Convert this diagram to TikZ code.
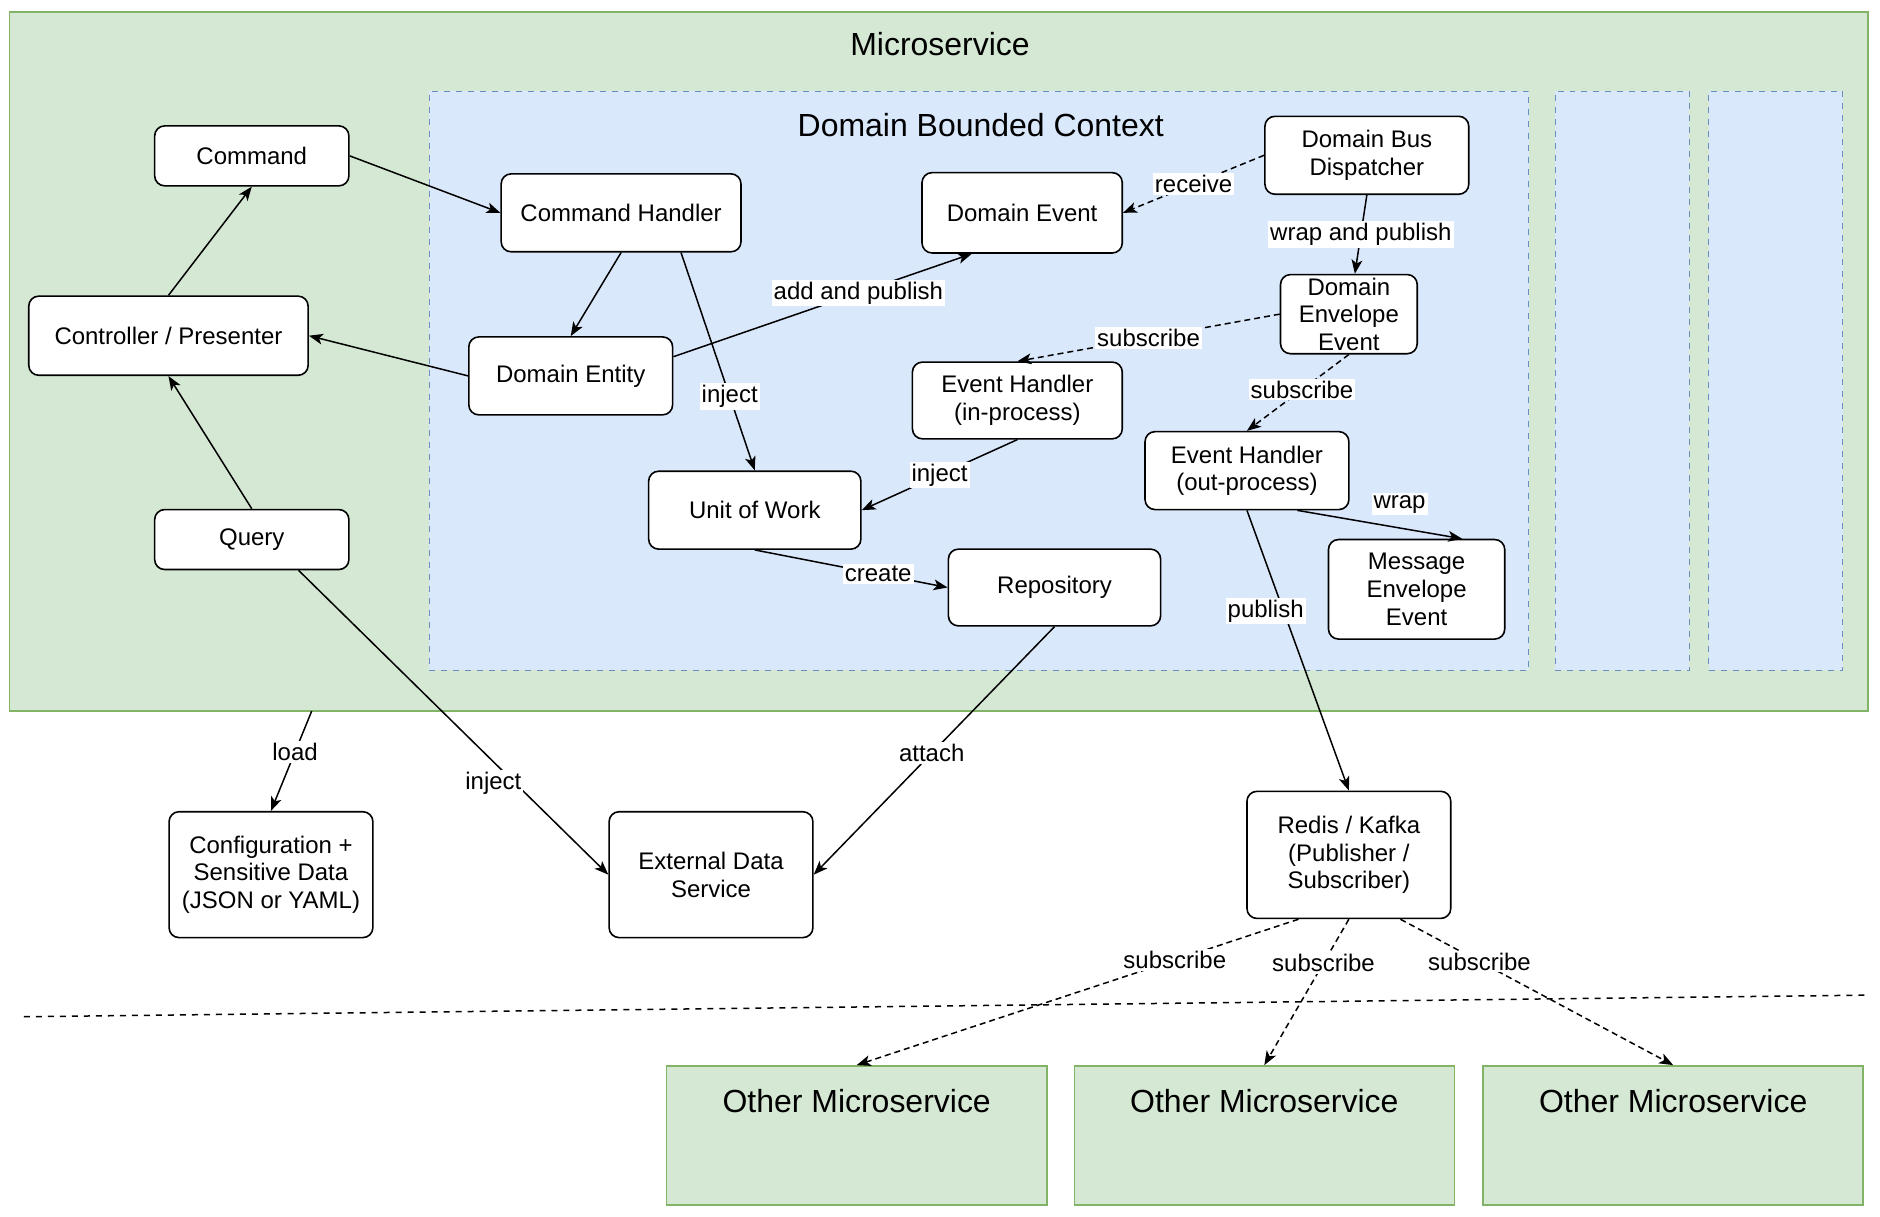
\documentclass[tikz,border=0pt]{standalone}
\usepackage{fontspec}
\setmainfont{Liberation Sans}
\usetikzlibrary{arrows.meta,calc}
\definecolor{msgreen}{HTML}{D5E8D4}
\definecolor{msedge}{HTML}{82B366}
\definecolor{dbcblue}{HTML}{DAE8FC}
\definecolor{dbcedge}{HTML}{6C8EBF}
\tikzset{
    dims/.style 2 args={minimum width=#1*0.6pt, minimum height=#2*0.6pt},
    rbox/.style={draw, fill=white, rounded corners=5pt, line width=0.8pt, align=center, inner sep=2pt},
    lbl/.style={fill=white, inner sep=1pt},
    title/.style={font=\fontsize{16}{19}\selectfont},
    msbox/.style={draw=msedge, fill=msgreen, line width=0.8pt},
    dbcbox/.style={draw=dbcedge, fill=dbcblue, dashed, line width=0.6pt},
    line/.style={line width=0.75pt},
    dline/.style={line width=0.75pt, dash pattern=on 3pt off 2pt}
}
\begin{document}
\begin{tikzpicture}[x=0.6pt, y=-0.6pt,
    >={Stealth[length=7pt, width=5.4pt, inset=1.8pt]},
    every node/.style={font=\fontsize{12}{13.8}\selectfont}]
    \useasboundingbox (0,0) rectangle (1568,1015);

    % containers
    \node[msbox, dims={1550}{583}] (ms) at (783,301.5) {};
    \node[title] (mstitle) at (784,37) {Microservice};
    \node[dbcbox, dims={917}{483}] (dbc) at (816.5,317.5) {};
    \node[title] (dbctitle) at (818,104) {Domain Bounded Context};
    \node[dbcbox, dims={112}{483}] (dbc2) at (1353,317.5) {};
    \node[dbcbox, dims={112}{483}] (dbc3) at (1481,317.5) {};
    \foreach \i/\x in {1/714.5, 2/1054.5, 3/1395.5} {
        \node[msbox, dims={317}{116}] (om\i) at (\x,947) {};
        \node[title] (omtitle\i) at (\x,918) {Other Microservice};
    }

    \coordinate (sepL) at (20,848);
    \coordinate (sepR) at (1556,830);
    \draw[line, dashed] (sepL) -- (sepR);

    % nodes
    \node[rbox, dims={162}{50}] (cmd) at (210,130) {Command};
    \node[rbox, dims={233}{66}] (ctrl) at (140.5,280) {Controller / Presenter};
    \node[rbox, dims={162}{50}] (qry) at (210,450) {Query};
    \node[rbox, dims={200}{65}] (ch) at (518,177.5) {Command Handler};
    \node[rbox, dims={170}{65}] (ent) at (476,313.5) {Domain Entity};
    \node[rbox, dims={167}{67}] (evt) at (852.5,177.5) {Domain Event};
    \node[rbox, dims={170}{65}] (bus) at (1140,129.5) {Domain Bus\\Dispatcher};
    \node[rbox, dims={114}{66}, inner sep=0pt] (env) at (1125,262) {Domain\\Envelope\\Event};
    \node[rbox, dims={175}{64}] (ehin) at (848.5,334) {Event Handler\\(in-process)};
    \node[rbox, dims={170}{65}] (ehout) at (1040,392.5) {Event Handler\\(out-process)};
    \node[rbox, dims={177}{65}] (uow) at (629.5,425.5) {Unit of Work};
    \node[rbox, dims={177}{64}] (repo) at (879.5,490) {Repository};
    \node[rbox, dims={147}{83}] (msg) at (1181.5,491.5) {Message\\Envelope\\Event};
    \node[rbox, dims={170}{105}] (cfg) at (226,729.5) {Configuration +\\Sensitive Data\\(JSON or YAML)};
    \node[rbox, dims={170}{105}] (ext) at (593,729.5) {External Data\\Service};
    \node[rbox, dims={170}{106}] (mq) at (1125,713) {Redis / Kafka\\(Publisher /\\Subscriber)};
    \coordinate (loadsrc) at (260,593);

    % connectors
    \draw[line, ->] (cmd.east) -- (ch.west);
    \draw[line, ->] (ctrl.north) -- (cmd.south);
    \draw[line, ->] (qry.north) -- (ctrl.south);
    \draw[line, ->] (ent.west) -- (ctrl.east);
    \draw[line, ->] (ch.south) -- (ent.north);
    \draw[line, ->] ($(ch.south)+(50,0)$) -- node[lbl, pos=0.66] {inject} (uow.north);
    \draw[line, ->] ($(ent.east)+(0,-16)$) -- node[lbl, pos=0.62] {add and publish} ($(evt.south)+(-42,0)$);
    \draw[dline, ->] (bus.west) -- node[lbl, pos=0.5] {receive} (evt.east);
    \draw[line, ->] (bus.south) -- node[lbl] {wrap and publish} ($(env.north)+(5,0)$);
    \draw[dline, ->] (env.west) -- node[lbl] {subscribe} (ehin.north);
    \draw[dline, ->] (env.south) -- node[lbl, pos=0.46] {subscribe} (ehout.north);
    \draw[line, ->] (ehin.south) -- node[lbl] {inject} (uow.east);
    \draw[line, ->] ($(ehout.south)+(42,0)$) -- node[lbl, pos=0.62, above=6pt] {wrap} ($(msg.north)+(38,0)$);
    \draw[line, ->] (ehout.south) -- node[lbl, pos=0.36, xshift=-9pt] {publish} (mq.north);
    \draw[line, ->] (uow.south) -- node[lbl, pos=0.64] {create} (repo.west);
    \draw[line, ->] (repo.south) -- node[lbl, pos=0.51] {attach} (ext.east);
    \draw[line, ->] ($(qry.south)+(39,0)$) -- node[lbl, pos=0.7, xshift=-11pt] {inject} (ext.west);
    \draw[line, ->] (loadsrc) -- node[lbl, pos=0.41] {load} (cfg.north);
    \draw[dline, ->] ($(mq.south)+(-42,0)$) -- node[lbl, pos=0.28] {subscribe} (om1.north);
    \draw[dline, ->] (mq.south) -- node[lbl, pos=0.3] {subscribe} (om2.north);
    \draw[dline, ->] ($(mq.south)+(43,0)$) -- node[lbl, pos=0.29] {subscribe} (om3.north);
\end{tikzpicture}
\end{document}
